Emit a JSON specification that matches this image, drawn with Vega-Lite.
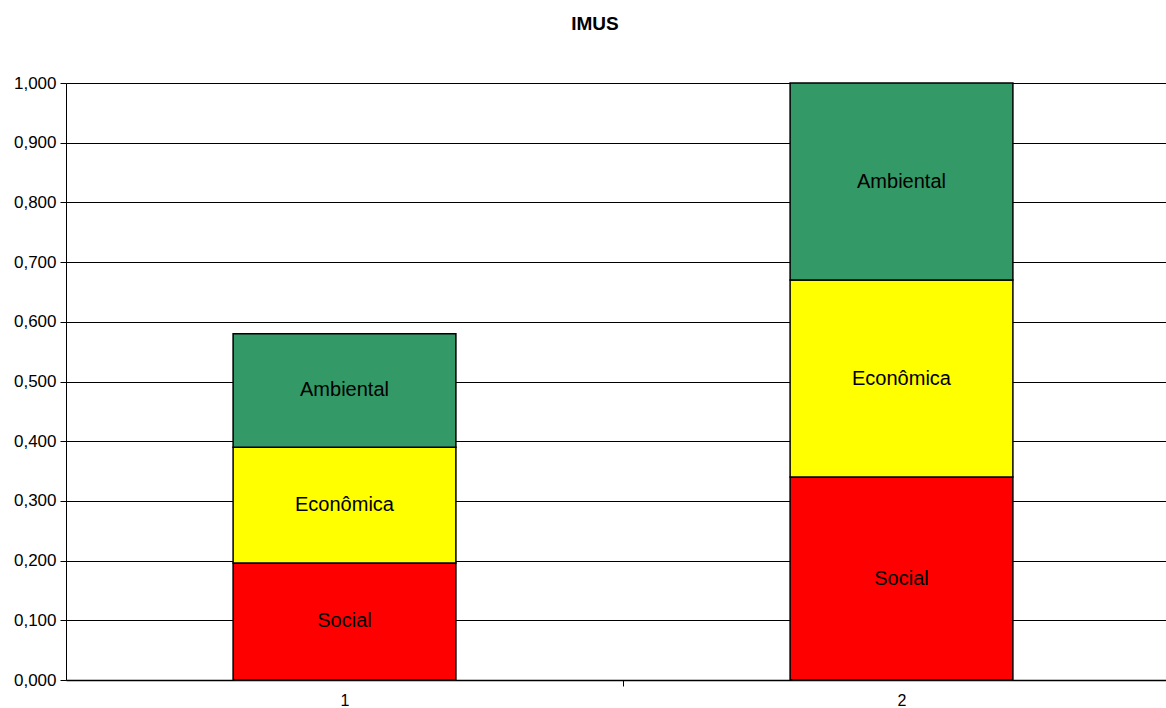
{
  "$schema": "https://vega.github.io/schema/vega-lite/v6.json",
  "autosize": {"type": "none"},
  "padding": {"left": 66, "top": 83, "right": 0, "bottom": 28},
  "width": 1100,
  "height": 597,
  "background": "white",
  "config": {
    "view": {"stroke": null},
    "font": "Liberation Sans",
    "locale": {"number": {"decimal": ",", "thousands": ".", "grouping": [3], "currency": ["R$", ""]}}
  },
  "title": {
    "text": "IMUS",
    "font": "Liberation Sans",
    "fontSize": 19,
    "fontWeight": "bold",
    "color": "#000",
    "anchor": "middle",
    "dx": -21,
    "offset": 40
  },
  "data": {
    "values": [
      {"grupo": "1", "componente": "Social", "ordem": 1, "valor": 0.196},
      {"grupo": "1", "componente": "Econômica", "ordem": 2, "valor": 0.194},
      {"grupo": "1", "componente": "Ambiental", "ordem": 3, "valor": 0.190},
      {"grupo": "2", "componente": "Social", "ordem": 1, "valor": 0.340},
      {"grupo": "2", "componente": "Econômica", "ordem": 2, "valor": 0.330},
      {"grupo": "2", "componente": "Ambiental", "ordem": 3, "valor": 0.330}
    ]
  },
  "transform": [
    {"stack": "valor", "groupby": ["grupo"], "sort": [{"field": "ordem", "order": "ascending"}], "as": ["y0", "y1"]},
    {"calculate": "(datum.y0 + datum.y1) / 2", "as": "ymid"}
  ],
  "encoding": {
    "x": {
      "field": "grupo",
      "type": "nominal",
      "title": null,
      "scale": {"paddingInner": 0.6, "paddingOuter": 0.3, "range": [0, 1114]},
      "axis": {
        "labelAngle": 0,
        "labelFontSize": 16,
        "labelColor": "#000",
        "labelPadding": 6,
        "ticks": true,
        "tickOffset": 278.5,
        "labelOffset": -278.5,
        "tickSize": 6,
        "tickColor": "#000",
        "domainColor": "#000",
        "domainWidth": 1.5,
        "grid": false
      }
    }
  },
  "layer": [
    {
      "mark": {"type": "bar", "stroke": "#000", "strokeWidth": 1.5},
      "encoding": {
        "y": {
          "field": "y0",
          "type": "quantitative",
          "title": null,
          "scale": {"domain": [0, 1], "nice": false},
          "axis": {
            "values": [0, 0.1, 0.2, 0.3, 0.4, 0.5, 0.6, 0.7, 0.8, 0.9, 1.0],
            "format": ".3f",
            "labelFontSize": 17,
            "labelColor": "#000",
            "labelPadding": 4,
            "tickSize": 6,
            "tickColor": "#000",
            "domainColor": "#000",
            "gridColor": "#000",
            "gridWidth": 1,
            "gridOpacity": 1
          }
        },
        "y2": {"field": "y1"},
        "color": {
          "field": "componente",
          "type": "nominal",
          "scale": {"domain": ["Social", "Econômica", "Ambiental"], "range": ["#FF0000", "#FFFF00", "#339966"]},
          "legend": null
        }
      }
    },
    {
      "mark": {"type": "text", "fontSize": 20, "color": "#000", "font": "Liberation Sans"},
      "encoding": {
        "y": {"field": "ymid", "type": "quantitative"},
        "text": {"field": "componente", "type": "nominal"}
      }
    }
  ]
}
